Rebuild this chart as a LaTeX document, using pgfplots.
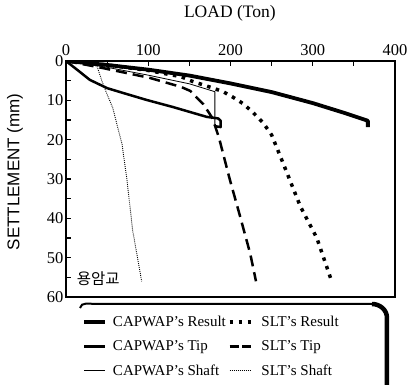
\documentclass[border=0pt]{standalone}
\usepackage{fontspec}
\setmainfont{Liberation Serif}
\newfontfamily\arialfont{Liberation Sans}
\newfontfamily\kr{Noto Sans CJK KR}
\usepackage{pgfplots}
\pgfplotsset{compat=1.18}
\pgfplotsset{
  longleg/.style={legend image code/.code={\draw[##1] (0pt,0pt) -- (21pt,0pt);}},
  shortleg/.style={legend image code/.code={\draw[##1] (0pt,0pt) -- (21.5pt,0pt); \path (24pt,0pt);}},
}
\newcommand\tl{\fontsize{16.5}{18}\selectfont}
\begin{document}
\begin{tikzpicture}
\useasboundingbox (-66pt,-88pt) rectangle (342pt,297pt);
\begin{axis}[
  at={(0,0)}, anchor=south west,
  scale only axis, width=329pt, height=236pt,
  xmin=0, xmax=400, ymin=0, ymax=60, y dir=reverse,
  xtick={0,100,...,400}, minor xtick={50,150,250,350},
  xticklabels={{\tl 0},{\tl 100},{\tl 200},{\tl 300},{\tl 400}},
  ytick={0,10,...,60}, minor ytick={5,15,...,55},
  yticklabels={{\tl 0},{\tl 10},{\tl 20},{\tl 30},{\tl 40},{\tl 50},{\tl 60}},
  xtick pos=upper, xticklabel pos=upper, ytick pos=left,
  major tick length=5pt, minor tick length=5pt,
  tick style={line width=1.1pt, black},
  axis line style={line width=1.6pt},
  xticklabel style={yshift=2pt},
  yticklabel style={xshift=1pt},
  xlabel={LOAD (Ton)},
  xlabel style={at={(axis description cs:0.498,1.203)}, anchor=center, font=\fontsize{17.5}{19}\selectfont},
  ylabel={SETTLEMENT (mm)},
  ylabel style={at={(axis description cs:-0.155,0.53)}, anchor=center, font=\arialfont\fontsize{17}{19}\selectfont},
  legend columns=2,
  legend cell align=left,
  legend style={at={(axis description cs:0,0)}, anchor=north west, xshift=13pt, yshift=-15pt,
    draw=none, fill=none, font=\fontsize{15}{16}\selectfont, row sep=8.5pt,
    /tikz/every even column/.append style={column sep=0pt},
    /tikz/every odd column/.append style={column sep=4pt}},
]
% CAPWAP's Result
\addplot[black, line width=3.8pt, line join=round, longleg] coordinates {
(0,0) (50,1.0) (100,2.2) (150,3.7) (200,5.7) (250,7.9) (300,10.7) (340,13.3) (367,15.2) (367,16.8)};
\addlegendentry{CAPWAP's Result}
% SLT's Result
\addplot[black, line width=3.5pt, dash pattern=on 3.5pt off 5.5pt, shortleg] coordinates {
(0,0) (50,1.0) (100,2.4) (140,4.0) (154,5.2) (179,6.9) (191,7.8) (203,9.2) (215,10.8) (227,13) (240,15.8) (250,18.8) (264,26) (285,37) (305,45) (323,56)};
\addlegendentry{SLT's Result}
% CAPWAP's Tip
\addplot[black, line width=2.5pt, line join=round, longleg] coordinates {
(0,0) (14,2.3) (29,4.8) (50,6.9) (69,8.1) (98,9.9) (130,11.7) (171,14.2) (185,14.6) (188,15.2) (188,16.8) (182,16.6)};
\addlegendentry{CAPWAP's Tip}
% SLT's Tip
\addplot[black, line width=2.5pt, dash pattern=on 11pt off 6pt, shortleg,
  legend image code/.code={\draw[black, line width=2.5pt, dash pattern=on 9pt off 3.5pt] (0pt,0pt) -- (21.5pt,0pt); \path (24pt,0pt);}] coordinates {
(0,0) (38,1.5) (102,4.3) (140,6.6) (151,7.6) (167,11) (178,14.5) (186,19.5) (199,30) (211,39) (224,49) (231,56)};
\addlegendentry{SLT's Tip}
% CAPWAP's Shaft
\addplot[black, line width=0.8pt, longleg] coordinates {
(0,0) (50,1.6) (100,3.6) (150,5.8) (181,7.8) (181,16.6)};
\addlegendentry{CAPWAP's Shaft}
% SLT's Shaft
\addplot[black, line width=0.9pt, dash pattern=on 0.9pt off 1.1pt, shortleg] coordinates {
(0,0) (30,0.4) (38,1.5) (44,5.3) (50,8.5) (57,12) (63,17) (68,21) (74,30) (81,43) (92,56)};
\addlegendentry{SLT's Shaft}
\node[anchor=west, inner sep=0pt, font=\kr\fontsize{15.5}{17}\selectfont] at (axis cs:13,55.3) {용암교};
\end{axis}
\draw[line width=2pt] (14pt,-11pt) to[out=80,in=180] (30pt,-7pt) -- (308pt,-7pt);
\draw[line width=4.5pt] (306pt,-7pt) to[out=0,in=90] (321pt,-21pt) -- (321pt,-88pt);
\end{tikzpicture}
\end{document}
